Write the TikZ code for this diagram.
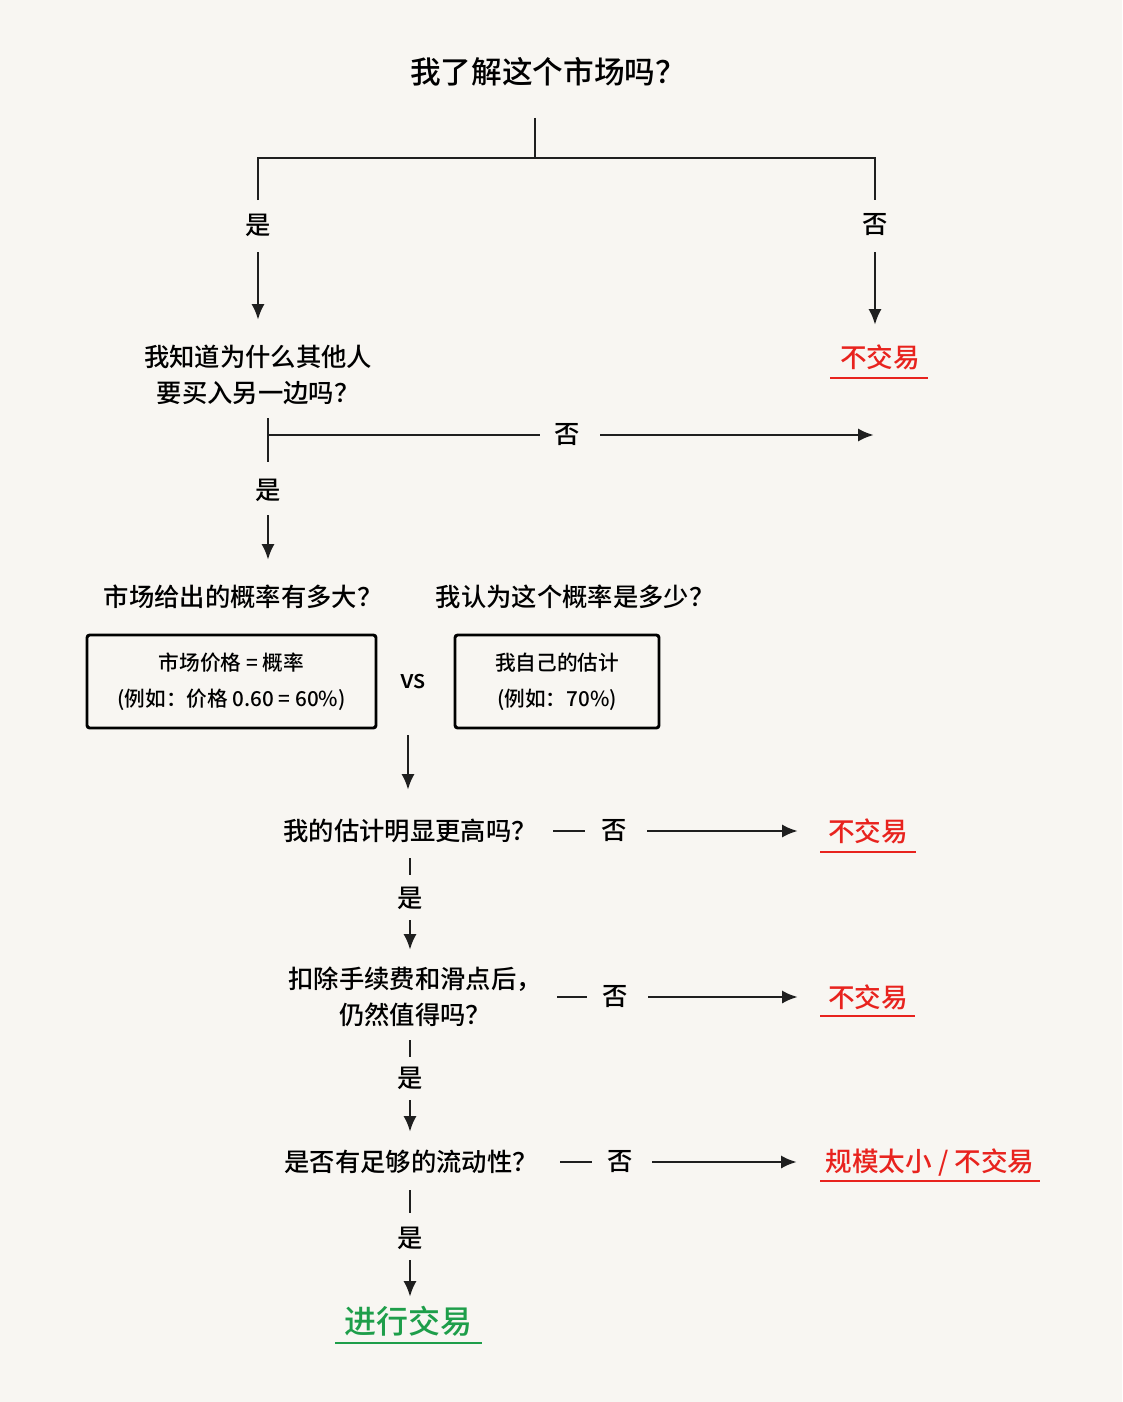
\documentclass[tikz,border=0pt]{standalone}
\usepackage{fontspec}
\setmainfont{Noto Sans CJK SC}[BoldFont={Noto Sans CJK SC Medium}]
\usetikzlibrary{arrows.meta}
\definecolor{bg}{HTML}{F8F6F2}
\definecolor{nored}{HTML}{E8231E}
\definecolor{gogreen}{HTML}{1E9E4A}
\begin{document}
\begin{tikzpicture}[x=0.75pt,y=-0.75pt,
  ln/.style={line width=2.2pt,black!88},
  ar/.style={ln,-{Latex[length=12pt,width=10pt]}},
  q/.style={font=\fontsize{19}{27}\selectfont\bfseries,align=center,inner sep=1pt},
  lab/.style={font=\fontsize{19}{22}\selectfont\bfseries,inner sep=1pt},
  no/.style={font=\fontsize{20}{22}\selectfont\bfseries,text=nored,inner sep=1pt},
  box/.style={draw,line width=2.2pt,rounded corners=2pt,minimum width=289*0.75pt,minimum height=93*0.75pt,align=center,font=\fontsize{15.5}{27}\selectfont\bfseries},
  ul/.style={line width=2pt}]
\fill[bg] (0,0) rectangle (1122,1402);
\useasboundingbox (0,0) rectangle (1122,1402);
% top
\node[q,font=\fontsize{23}{26}\selectfont\bfseries] (t) at (548,72) {我了解这个市场吗？};
\coordinate (t1) at (535,118); \coordinate (t2) at (535,158);
\coordinate (l1) at (258,158); \coordinate (r1) at (875,158);
\coordinate (l2) at (258,200); \coordinate (r2) at (875,200);
\draw[ln] (t1)--(t2); \draw[ln] (l2)--(l1)--(r1)--(r2);
\node[lab] (y1) at (258,225) {是};
\node[lab] (n1) at (875,225) {否};
\coordinate (a1) at (258,252); \coordinate (a1e) at (258,320);
\coordinate (b1) at (875,252); \coordinate (b1e) at (875,325);
\draw[ar] (a1)--(a1e); \draw[ar] (b1)--(b1e);
\node[no] (x1) at (880,357) {不交易};
\draw[ul,nored] (830,378)--(928,378);
% q2
\node[q] (q2) at (258,375) {我知道为什么其他人\\要买入另一边吗？};
\coordinate (h0) at (268,435); \coordinate (h1) at (540,435);
\coordinate (tk1) at (268,418); \coordinate (tk2) at (268,462);
\draw[ln] (tk1)--(tk2); \draw[ln] (h0)--(h1);
\node[lab] (n2) at (567,435) {否};
\coordinate (h2) at (600,435); \coordinate (h3) at (874,435);
\draw[ar] (h2)--(h3);
\node[lab] (y2) at (268,490) {是};
\coordinate (a2) at (268,515); \coordinate (a2e) at (268,560);
\draw[ar] (a2)--(a2e);
% boxes
\node[q] (m1) at (243,597) {市场给出的概率有多大？};
\node[q] (m2) at (575,597) {我认为这个概率是多少？};
\node[box] (bx1) at (231.5,681.5) {市场价格 = 概率\\(例如：价格 0.60 = 60\%)};
\node[box,minimum width=204*0.75pt] (bx2) at (557,681.5) {我自己的估计\\(例如：70\%)};
\node[lab] (vs) at (413,682) {vs};
\coordinate (a3) at (408,735); \coordinate (a3e) at (408,790);
\draw[ar] (a3)--(a3e);
% q3
\node[q] (q3) at (410,831) {我的估计明显更高吗？};
\draw[ln] (553,831)--(585,831);
\node[lab] (n3) at (614,831) {否};
\coordinate (c3) at (647,831); \coordinate (c3e) at (798,831);
\draw[ar] (c3)--(c3e);
\node[no] (x3) at (868,831) {不交易};
\draw[ul,nored] (820,852)--(916,852);
\draw[ln] (410,858)--(410,875);
\node[lab] (y3) at (410,898) {是};
\coordinate (a4) at (410,920); \coordinate (a4e) at (410,950);
\draw[ar] (a4)--(a4e);
% q4
\node[q] (q4) at (415,997) {扣除手续费和滑点后，\\仍然值得吗？};
\draw[ln] (557,997)--(587,997);
\node[lab] (n4) at (615,997) {否};
\coordinate (c4) at (648,997); \coordinate (c4e) at (798,997);
\draw[ar] (c4)--(c4e);
\node[no] (x4) at (868,997) {不交易};
\draw[ul,nored] (820,1016)--(915,1016);
\draw[ln] (410,1040)--(410,1057);
\node[lab] (y4) at (410,1078) {是};
\coordinate (a5) at (410,1100); \coordinate (a5e) at (410,1132);
\draw[ar] (a5)--(a5e);
% q5
\node[q] (q5) at (411,1162) {是否有足够的流动性？};
\draw[ln] (560,1162)--(592,1162);
\node[lab] (n5) at (620,1162) {否};
\coordinate (c5) at (652,1162); \coordinate (c5e) at (797,1162);
\draw[ar] (c5)--(c5e);
\node[no] (x5) at (930,1162) {规模太小 / 不交易};
\draw[ul,nored] (820,1181)--(1040,1181);
\draw[ln] (410,1190)--(410,1213);
\node[lab] (y5) at (410,1238) {是};
\coordinate (a6) at (410,1260); \coordinate (a6e) at (410,1297);
\draw[ar] (a6)--(a6e);
\node[font=\fontsize{24}{26}\selectfont\bfseries,text=gogreen] (go) at (408,1321) {进行交易};
\draw[ul,gogreen] (335,1343)--(482,1343);
\end{tikzpicture}
\end{document}
